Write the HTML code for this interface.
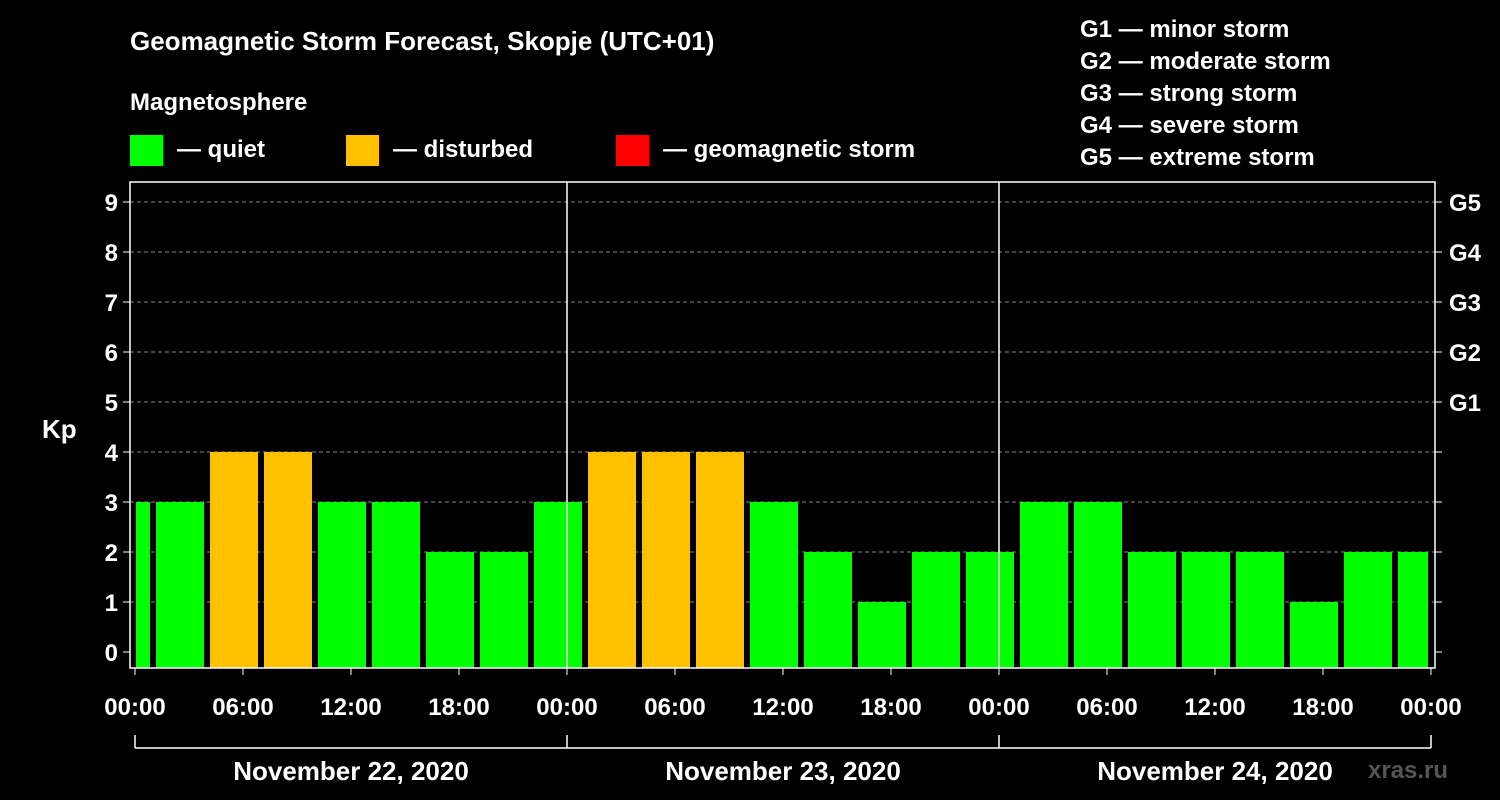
<!DOCTYPE html>
<html><head><meta charset="utf-8"><style>
html,body{margin:0;padding:0;background:#000;}
svg{display:block;font-family:"Liberation Sans",sans-serif;font-weight:bold;}
</style></head><body>
<svg id="chart" width="1500" height="800" viewBox="0 0 1500 800">
<rect width="1500" height="800" fill="#000"/>
<text x="130" y="50" fill="#fff" font-size="26">Geomagnetic Storm Forecast, Skopje (UTC+01)</text>
<text x="130" y="110" fill="#fff" font-size="24">Magnetosphere</text>
<g><rect x="130" y="135" width="33" height="31" fill="#00ff00"/><text x="177" y="157" fill="#fff" font-size="24">— quiet</text></g>
<g><rect x="346" y="135" width="33" height="31" fill="#ffc000"/><text x="393" y="157" fill="#fff" font-size="24">— disturbed</text></g>
<g><rect x="616" y="135" width="33" height="31" fill="#ff0000"/><text x="663" y="157" fill="#fff" font-size="24">— geomagnetic storm</text></g>
<g fill="#fff" font-size="24">
<text x="1080" y="37">G1 — minor storm</text>
<text x="1080" y="69">G2 — moderate storm</text>
<text x="1080" y="101">G3 — strong storm</text>
<text x="1080" y="133">G4 — severe storm</text>
<text x="1080" y="165">G5 — extreme storm</text>
</g>
<text x="42" y="438" fill="#fff" font-size="26">Kp</text>
<text x="1368" y="778" fill="#555" font-size="24">xras.ru</text>
<g id="plot"></g>
</svg>
<script>
const kpValues = [3, 3,4,4,3,3,2,2,3, 4,4,4,3,2,1,2,2, 3,3,2,2,2,1,2,2];
const yTicks = [0,1,2,3,4,5,6,7,8,9];
const gLabels = ["G1","G2","G3","G4","G5"];
const xTickLabels = ["00:00","06:00","12:00","18:00","00:00","06:00","12:00","18:00","00:00","06:00","12:00","18:00","00:00"];
const dayLabels = ["November 22, 2020","November 23, 2020","November 24, 2020"];

const NS="http://www.w3.org/2000/svg";
const g=document.getElementById('plot');
const x0=135, pxH=18, L=130, R=1435, T=182, B=668;
const xS=h=>x0+h*pxH;
const yS=v=>652-v*50;
function mk(t,a){const e=document.createElementNS(NS,t);for(const k in a)e.setAttribute(k,a[k]);g.appendChild(e);return e;}
// grid
yTicks.forEach(v=>{
  if(v>0){const l=mk('line',{x1:L,x2:R,y1:yS(v),y2:yS(v),stroke:'#888','stroke-dasharray':'4,3','stroke-width':1});
  }
  const t=mk('line',{x1:L-7,x2:L,y1:yS(v),y2:yS(v),stroke:'#fff','stroke-width':1});
  
  const t2=mk('line',{x1:R,x2:R+7,y1:yS(v),y2:yS(v),stroke:'#fff','stroke-width':1});
  
  const tx=mk('text',{x:L-12,y:yS(v)+9,fill:'#fff','font-size':24,'text-anchor':'end'});tx.textContent=v;
  
});
gLabels.forEach((s,i)=>{
  const tx=mk('text',{x:R+14,y:yS(5+i)+9,fill:'#fff','font-size':24});tx.textContent=s;
  
});
// bars: each covers UTC 3h interval, shifted +1h local
kpValues.forEach((v,i)=>{
  let s=xS(-2+i*3)+3, e=xS(1+i*3)-3;
  s=Math.max(s,x0+1); e=Math.min(e,xS(72)-3);
  const col=v>=5?'#ff0000':(v>=4?'#ffc000':'#00ff00');
  const r=mk('rect',{x:s,y:yS(v),width:e-s,height:B-yS(v),fill:col});
  
});
// day separators
[24,48].forEach(h=>{const l=mk('line',{x1:xS(h),x2:xS(h),y1:T,y2:B,stroke:'#fff','stroke-width':1.5});
  });
// frame
const f=mk('rect',{x:L,y:T,width:R-L,height:B-T,fill:'none',stroke:'#fff','stroke-width':1.5});

// x ticks
xTickLabels.forEach((s,i)=>{
  const x=xS(i*6);
  const t=mk('line',{x1:x,x2:x,y1:B,y2:B+7,stroke:'#fff','stroke-width':1});
  
  const tx=mk('text',{x:x,y:715,fill:'#fff','font-size':24,'text-anchor':'middle'});tx.textContent=s;
  
});
// day bracket
const bl=mk('line',{x1:xS(0),x2:xS(72),y1:748,y2:748,stroke:'#fff','stroke-width':1.5});

[0,24,48,72].forEach(h=>{const l=mk('line',{x1:xS(h),x2:xS(h),y1:735,y2:748,stroke:'#fff','stroke-width':1.5});
  });
dayLabels.forEach((s,i)=>{
  const tx=mk('text',{x:xS(i*24+12),y:780,fill:'#fff','font-size':26,'text-anchor':'middle'});tx.textContent=s;
  
});
</script>
</body></html>
